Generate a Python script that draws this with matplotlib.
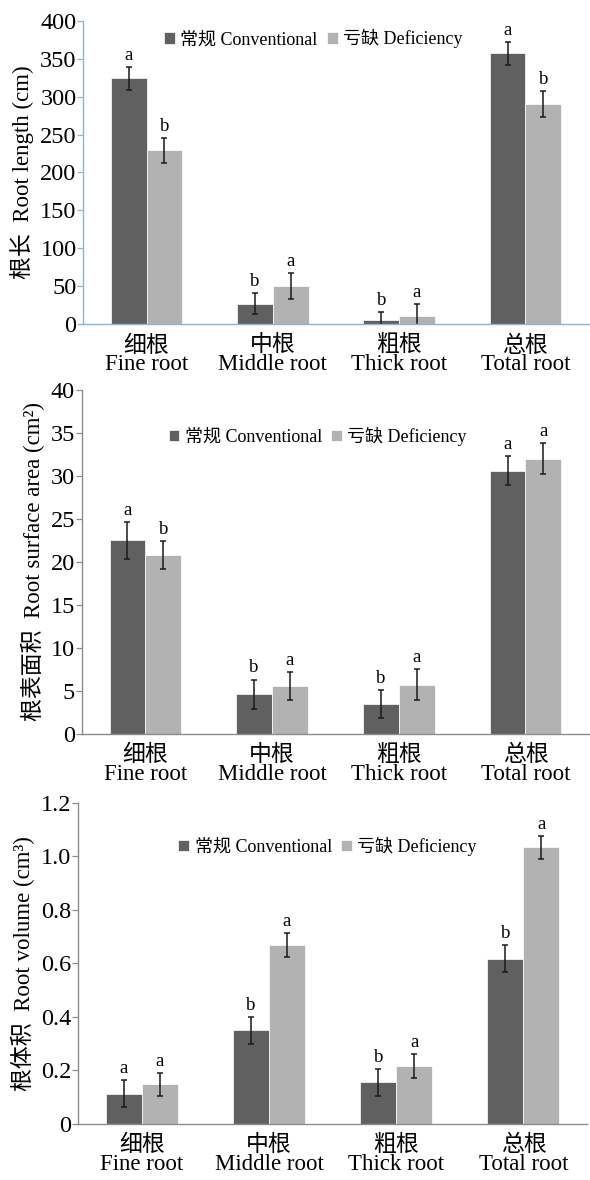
import numpy as np
import matplotlib
matplotlib.use('Agg')
import matplotlib.pyplot as plt
from matplotlib.ticker import FixedLocator

plt.rcParams['font.family'] = ['Liberation Serif', 'Noto Sans CJK SC']

categories = ['细根\nFine root', '中根\nMiddle root', '粗根\nThick root', '总根\nTotal root']
series_names = ['常规 Conventional', '亏缺 Deficiency']

length_conv = [324, 27, 5, 357]
length_conv_err = [15, 14, 11, 15]
length_def = [229, 50, 11, 290]
length_def_err = [17, 17, 16, 17]
length_letters_conv = ['a', 'b', 'b', 'a']
length_letters_def = ['b', 'a', 'a', 'b']

area_conv = [22.5, 4.6, 3.5, 30.6]
area_conv_err = [2.1, 1.7, 1.6, 1.7]
area_def = [20.8, 5.6, 5.7, 32.0]
area_def_err = [1.6, 1.6, 1.8, 1.8]
area_letters_conv = ['a', 'b', 'b', 'a']
area_letters_def = ['b', 'a', 'a', 'a']

vol_conv = [0.113, 0.350, 0.155, 0.618]
vol_conv_err = [0.050, 0.050, 0.050, 0.050]
vol_def = [0.148, 0.668, 0.215, 1.034]
vol_def_err = [0.043, 0.045, 0.045, 0.043]
vol_letters_conv = ['a', 'b', 'b', 'b']
vol_letters_def = ['a', 'a', 'a', 'a']

dark = '#606060'
light = '#b2b2b2'

fig = plt.figure(figsize=(5.9, 11.8), dpi=100)

panels = [
    dict(pos=[0.1415, 0.7252, 0.856, 0.2573], conv=length_conv, ce=length_conv_err,
         defi=length_def, de=length_def_err, lc=length_letters_conv, ld=length_letters_def,
         ylim=(0, 400), yticks=[0, 50, 100, 150, 200, 250, 300, 350, 400],
         ylabels=['0', '50', '100', '150', '200', '250', '300', '350', '400'],
         ylabel='根长  Root length (cm)', spine='#8db3d9', leg_y=0.94, leg_x=0.455),
    dict(pos=[0.139, 0.378, 0.859, 0.2915], conv=area_conv, ce=area_conv_err,
         defi=area_def, de=area_def_err, lc=area_letters_conv, ld=area_letters_def,
         ylim=(0, 40), yticks=[0, 5, 10, 15, 20, 25, 30, 35, 40],
         ylabels=['0', '5', '10', '15', '20', '25', '30', '35', '40'],
         ylabel='根表面积  Root surface area (cm²)', spine='#8c8c8c', leg_y=0.865, leg_x=0.465),
    dict(pos=[0.1325, 0.0475, 0.8625, 0.272], conv=vol_conv, ce=vol_conv_err,
         defi=vol_def, de=vol_def_err, lc=vol_letters_conv, ld=vol_letters_def,
         ylim=(0, 1.2), yticks=[0, 0.2, 0.4, 0.6, 0.8, 1.0, 1.2],
         ylabels=['0', '0.2', '0.4', '0.6', '0.8', '1.0', '1.2'],
         ylabel='根体积  Root volume (cm³)', spine='#8c8c8c', leg_y=0.865, leg_x=0.49),
]

x = np.arange(len(categories))
w = 0.283

for p in panels:
    ax = fig.add_axes(p['pos'])
    ax.bar(x - w / 2, p['conv'], w, color=dark, edgecolor='white', linewidth=0.5,
           label=series_names[0])
    ax.bar(x + w / 2, p['defi'], w, color=light, edgecolor='white', linewidth=0.5,
           label=series_names[1])
    ax.errorbar(x - w / 2, p['conv'], yerr=p['ce'], fmt='none', ecolor='#1a1a1a',
                elinewidth=1.1, capsize=2, capthick=1.1)
    ax.errorbar(x + w / 2, p['defi'], yerr=p['de'], fmt='none', ecolor='#1a1a1a',
                elinewidth=1.1, capsize=2, capthick=1.1)
    off = p['ylim'][1] * 0.01
    for i in range(len(categories)):
        ax.text(x[i] - w / 2, p['conv'][i] + p['ce'][i] + off, p['lc'][i],
                ha='center', va='bottom', fontsize=13.5)
        ax.text(x[i] + w / 2, p['defi'][i] + p['de'][i] + off, p['ld'][i],
                ha='center', va='bottom', fontsize=13.5)

    ax.set_xlim(-0.5, 3.5)
    ax.set_ylim(*p['ylim'])
    ax.yaxis.set_major_locator(FixedLocator(p['yticks']))
    ax.set_yticklabels(p['ylabels'], fontsize=17.5)
    ax.set_xticks(x)
    ax.set_xticklabels(categories, fontsize=16.5, linespacing=0.85)
    ax.tick_params(axis='x', length=0, pad=8)
    ax.tick_params(axis='y', length=4, width=0.9, color=p['spine'], pad=1)
    for s in ['top', 'right']:
        ax.spines[s].set_visible(False)
    for s in ['left', 'bottom']:
        ax.spines[s].set_color(p['spine'])
        ax.spines[s].set_linewidth(1.0)
    ax.set_ylabel(p['ylabel'], fontsize=16.5, labelpad=4)
    ax.legend(loc='center', bbox_to_anchor=(p['leg_x'], p['leg_y']), ncol=2, frameon=False,
              fontsize=13, handlelength=0.6, handleheight=0.6, handletextpad=0.3,
              columnspacing=0.5, borderpad=0)

fig.savefig('out.png', dpi=100)
